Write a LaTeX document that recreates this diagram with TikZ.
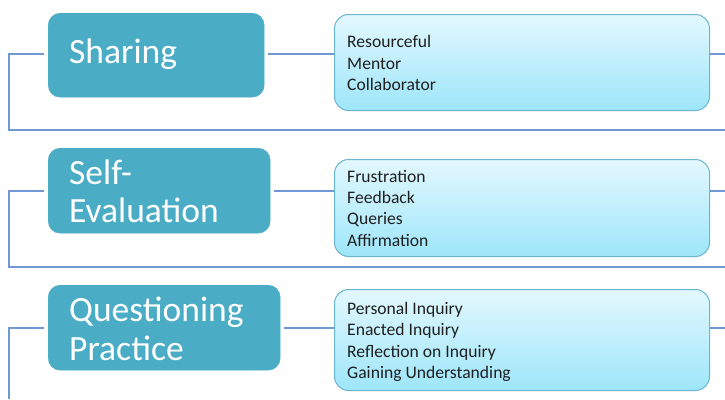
\documentclass[tikz,border=0pt]{standalone}
\usepackage{fontspec}
\setmainfont{Carlito}
\definecolor{mainc}{HTML}{4BACC6}
\definecolor{dtop}{HTML}{E3F8FE}
\definecolor{dbot}{HTML}{9DE6FA}
\definecolor{detb}{HTML}{6AB6CF}
\definecolor{linec}{HTML}{7197D4}
\begin{document}
\begin{tikzpicture}[x=1pt,y=-1pt,
  mainbox/.style={rounded corners=12pt, fill=mainc, draw=mainc, inner sep=0pt, anchor=north west},
  detailbox/.style={rounded corners=14pt, draw=detb, line width=1pt, top color=dtop, bottom color=dbot, inner sep=0pt, anchor=north west},
  conn/.style={draw=linec, line width=1.2pt},
  bigtext/.style={text=white, font=\fontsize{35.5}{38.5}\selectfont, align=left, anchor=base west, inner sep=0pt},
  smalltext/.style={text=black!88, font=\fontsize{17.6}{21.3}\selectfont, align=left, anchor=base west, inner sep=0pt}]
\useasboundingbox (0,0) rectangle (725,399);

% main boxes
\node[mainbox, minimum width=216pt, minimum height=84pt] (m1) at (48,13) {};
\node[mainbox, minimum width=222pt, minimum height=85pt] (m2) at (48,148) {};
\node[mainbox, minimum width=232pt, minimum height=85pt] (m3) at (48,285) {};
\node[bigtext] (t1) at (69,63.3) {Sharing};
\node[bigtext] (t2) at (69,222.7) {Self-\\Evaluation};
\node[bigtext] (t3) at (69,360) {Questioning\\Practice};

% detail boxes
\node[detailbox, minimum width=375pt, minimum height=96pt] (d1) at (334,14) {};
\node[detailbox, minimum width=375pt, minimum height=97pt] (d2) at (334,159) {};
\node[detailbox, minimum width=375pt, minimum height=101pt] (d3) at (334,289) {};
\node[smalltext] (s1) at (347,90.5) {Resourceful\\Mentor\\Collaborator};
\node[smalltext] (s2) at (347,246) {Frustration\\Feedback\\Queries\\Affirmation};
\node[smalltext] (s3) at (347,378.5) {Personal Inquiry\\Enacted Inquiry\\Reflection on Inquiry\\Gaining Understanding};

% coordinates for free ends
\coordinate (l1) at (9,54);
\coordinate (e1) at (725,130);
\coordinate (r1) at (725,54);
\coordinate (l2) at (9,191);
\coordinate (e2) at (725,267);
\coordinate (r2) at (725,191);
\coordinate (l3) at (9,328);
\coordinate (e3) at (9,399);
\coordinate (r3) at (725,328);

% connectors
\draw[conn] ([xshift=-4pt]m1.west |- l1) -- (l1) |- (e1);
\draw[conn] ([xshift=4pt]m1.east |- l1) -- (d1.west |- l1);
\draw[conn] (d1.east |- r1) -- (r1);

\draw[conn] ([xshift=-4pt]m2.west |- l2) -- (l2) |- (e2);
\draw[conn] ([xshift=4pt]m2.east |- l2) -- (d2.west |- l2);
\draw[conn] (d2.east |- r2) -- (r2);

\draw[conn] ([xshift=-4pt]m3.west |- l3) -- (l3) -- (e3);
\draw[conn] ([xshift=4pt]m3.east |- l3) -- (d3.west |- l3);
\draw[conn] (d3.east |- r3) -- (r3);
\end{tikzpicture}
\end{document}
